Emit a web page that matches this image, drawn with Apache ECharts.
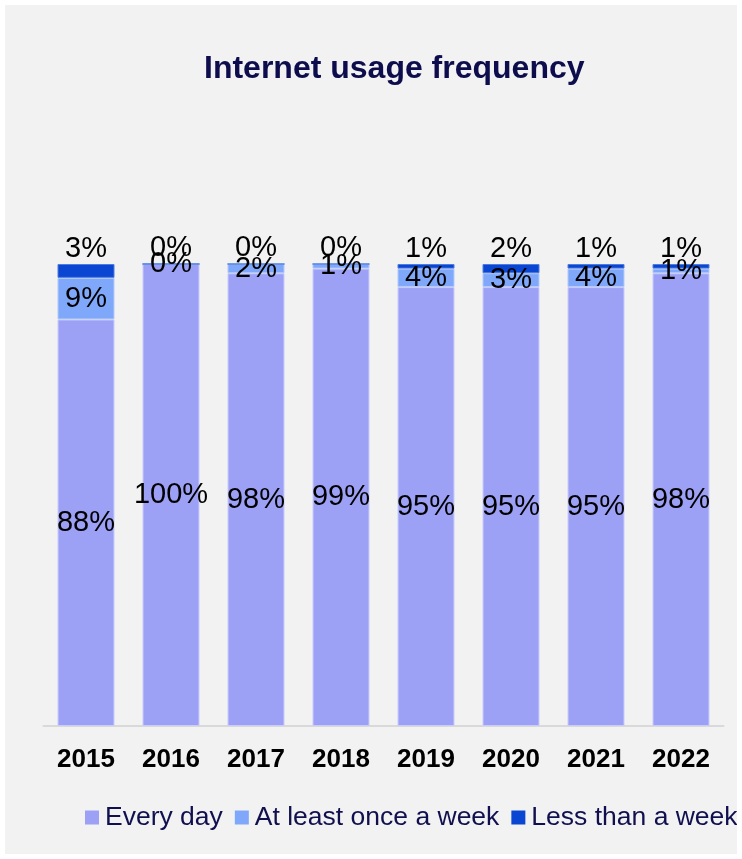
<!DOCTYPE html>
<html>
<head>
<meta charset="utf-8">
<script src="https://cdn.jsdelivr.net/npm/echarts@6/dist/echarts.min.js"></script>
<style>
html,body{margin:0;padding:0;background:#fff;}
#c{position:absolute;left:0;top:0;width:742px;height:859px;border:5px solid #fff;box-sizing:border-box;background:#f2f2f2;}
</style>
</head>
<body>
<div id="c"></div>
<script>
const years = ['2015','2016','2017','2018','2019','2020','2021','2022'];
const everyDay = [88, 100, 98, 99, 95, 95, 95, 98];
const onceAWeek = [9, 0, 2, 1, 4, 3, 4, 1];
const lessThanWeek = [3, 0, 0, 0, 1, 2, 1, 1];
const seriesNames = ['Every day', 'At least once a week', 'Less than a week'];
const colors = ['#9ca1f6', '#80a8fa', '#0a46d2'];

const font = 'Arial, "Liberation Sans", sans-serif';
const chart = echarts.init(document.getElementById('c'));
const lbl = (pos) => ({show:true, position:pos, distance:1, color:'#000', fontSize:29, fontFamily:font, formatter:'{c}%'});
chart.setOption({
  backgroundColor:'#f2f2f2',
  animation:false,
  title:{text:'Internet usage frequency', left:194, top:43,
    textStyle:{fontSize:32, fontWeight:'bold', color:'#0d0d4d', fontFamily:font}},
  legend:{left:80, top:799, width:700, padding:0, itemWidth:14, itemHeight:14, itemGap:12,
    icon:'rect', itemStyle:{borderWidth:0},
    textStyle:{fontSize:26.5, color:'#10104f', fontFamily:font, padding:[0,0,0,1]},
    data:seriesNames},
  grid:{left:38.5, right:13.5, top:259, bottom:128},
  xAxis:{type:'category', data:years,
    axisLine:{lineStyle:{color:'#d9d9d9', width:2}}, axisTick:{show:false},
    axisLabel:{margin:21, fontSize:26, fontWeight:'bold', color:'#000', fontFamily:font}},
  yAxis:{type:'value', min:0, max:100, show:false, splitLine:{show:false}},
  series:[
    {name:seriesNames[0], type:'bar', stack:'s', data:everyDay, barWidth:57,
      itemStyle:{color:colors[0], borderColor:'#c9ccfa', borderWidth:1}, label:lbl('inside')},
    {name:seriesNames[1], type:'bar', stack:'s', data:onceAWeek, barWidth:57,
      itemStyle:{color:colors[1], borderColor:'#b4c9fb', borderWidth:1}, label:lbl('inside')},
    {name:seriesNames[2], type:'bar', stack:'s', data:lessThanWeek, barWidth:57,
      itemStyle:{color:colors[2], borderColor:'#4f7ce0', borderWidth:1}, label:lbl('top')}
  ]
});
</script>
</body>
</html>
